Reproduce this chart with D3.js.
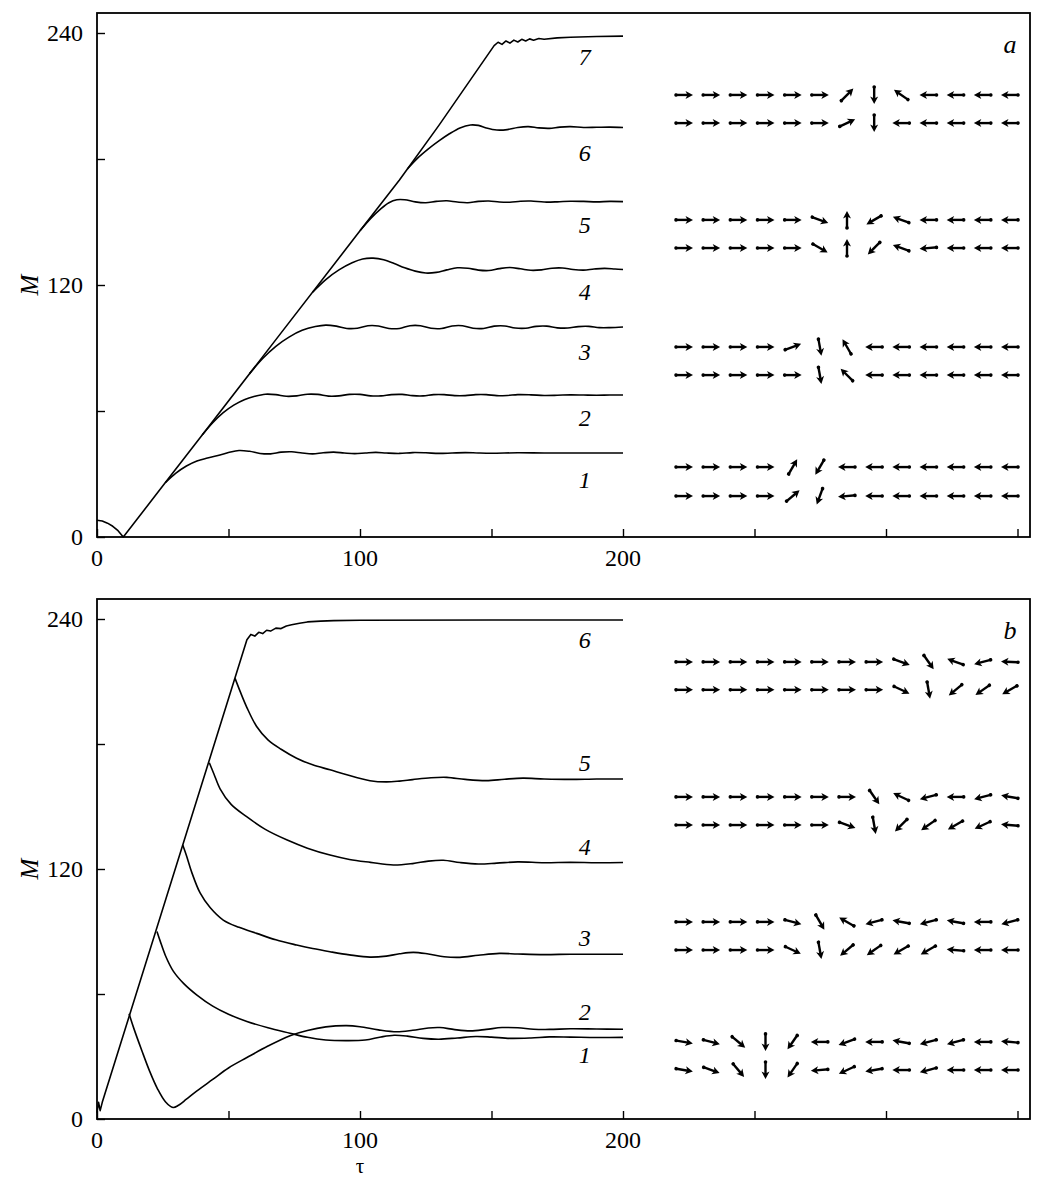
<!DOCTYPE html>
<html><head><meta charset="utf-8">
<script src="https://cdn.jsdelivr.net/npm/d3@7"></script>
<style>body{margin:0;background:#fff}svg{display:block}</style>
</head><body>
<script>
// ---------------- DATA ----------------
const xTicks = [0, 50, 100, 150, 200, 250, 300, 350];
const xTickLabels = [0, 100, 200];
const yTicks = [0, 60, 120, 180, 240];
const yTickLabels = [0, 120, 240];

// Panel a : common rising line (curve 7) and its plateau
const a7 = [[0,8],[2,7.6],[4,6.6],[6,5.1],[8,3],[10,0],[26,25.9],[40,48.6],[70,97.2],[100,145.8],[115,170],[130,196],[151,234],
  [152.5,235.6],[154,234.6],[155.5,236.2],[157,235.2],[158.5,236.6],[160,235.7],[161.5,237],[163,236.2],[164.5,237.2],
  [166,236.6],[168,237.4],[170,237],[175,237.7],[180,238],[190,238.3],[200,238.5]];
const a6 = [[118,175.2],[122,180.5],[126,184.8],[130,188.6],[134,192],[138,194.8],[142,196.2],[145,196],[148,194.8],
  [152,193.8],[156,194],[160,195],[164,195.4],[168,194.8],[172,194.6],[176,195.2],[180,195.4],[185,195],[190,195.1],[195,195.2],[200,195]];
const a5 = [[100,145.8],[104,151.6],[108,156.4],[111,159.2],[114,160.6],[117,160.6],[121,159.6],[125,159.2],[129,159.8],
  [133,160.1],[137,159.5],[141,159.2],[145,159.8],[149,160],[153,159.5],[157,159.4],[161,159.9],[165,160],[170,159.5],
  [175,159.6],[180,159.9],[185,159.8],[190,159.6],[195,159.8],[200,159.7]];
const a4 = [[82,116.6],[87,122.6],[92,127.2],[97,130.6],[101,132.4],[105,132.8],[109,132],[113,130.2],[117,128.2],
  [121,126.6],[125,125.7],[129,126],[133,127.2],[137,128.2],[141,128],[145,127.1],[149,126.9],[153,127.8],[157,128.3],
  [161,127.7],[165,127],[169,127.2],[173,128],[177,128.1],[181,127.4],[185,127.1],[189,127.6],[193,127.9],[197,127.6],[200,127.4]];
const a3 = [[58,77.8],[63,85],[68,90.8],[73,95.2],[78,98.4],[83,100.2],[87,100.9],[91,100.4],[95,99.3],[99,99.4],
  [103,100.6],[107,100.5],[111,99.3],[115,99.3],[119,100.6],[123,100.6],[127,99.4],[131,99.3],[135,100.5],[139,100.6],
  [143,99.4],[147,99.3],[151,100.4],[155,100.5],[159,99.5],[163,99.4],[167,100.3],[171,100.4],[175,99.6],[179,99.5],
  [183,100.2],[187,100.3],[191,99.7],[195,99.7],[200,100]];
const a2 = [[40,48.6],[44,54.4],[48,59.2],[52,62.8],[56,65.4],[60,67],[64,68],[68,67.8],[72,67],[76,67.2],[80,68],
  [84,67.9],[88,67.1],[92,67.2],[96,67.9],[100,67.9],[104,67.2],[108,67.2],[112,67.8],[116,67.9],[120,67.3],[124,67.2],
  [128,67.8],[132,67.8],[136,67.3],[140,67.3],[144,67.8],[148,67.8],[152,67.3],[156,67.4],[160,67.8],[165,67.7],
  [170,67.4],[175,67.5],[180,67.7],[185,67.6],[190,67.5],[195,67.6],[200,67.6]];
const a1 = [[26,25.9],[30,30.4],[34,33.8],[38,36.2],[42,37.6],[46,38.8],[50,40.2],[54,41.2],[58,40.8],[62,39.8],
  [66,39.6],[70,40.4],[74,40.6],[78,40],[82,39.6],[86,40.1],[90,40.4],[94,40],[98,39.7],[102,40],[106,40.3],[110,40],
  [115,39.8],[120,40.2],[125,40.1],[130,39.8],[135,40],[140,40.2],[145,40],[150,39.9],[160,40.1],[170,40],[180,40],[190,40],[200,40]];
const seriesA = [a1, a2, a3, a4, a5, a6, a7];
const labelsA = ["1","2","3","4","5","6","7"];
const labelMA = [27.1, 56.7, 88.1, 116.7, 148.6, 183, 228.6];

// Panel b
const b6 = [[0,3],[0.6,8],[1.2,4],[2,8],[57,230],[58.5,232.6],[60,231.8],[61.5,233.6],[63,233],[64.5,234.6],[66,234.2],
  [68,235.6],[70,235.4],[72,236.6],[74,237.2],[77,238],[80,238.6],[85,239],[90,239.2],[100,239.4],[150,239.5],[200,239.5]];
const b5 = [[52.5,211.5],[54.5,205],[57,197.5],[60.7,188.4],[65,182],[70,177.5],[75.9,173.2],[82,170],[88.6,167.6],
  [95,165.2],[103.8,162.4],[110,161.8],[115,162.2],[120,162.9],[127,163.8],[133,164],[140,163],[148,162.4],[155,163.1],
  [162,163.6],[170,163.2],[180,163],[190,163.2],[200,163.2]];
const b4 = [[42.7,171],[44.5,165.5],[46.8,158.5],[51,151],[56.9,145.1],[64,139],[72.1,134],[80,130],[88.6,126.7],
  [96,124.6],[104,123.2],[112.7,121.9],[120,122.6],[126,123.8],[131.7,124.2],[138,123.1],[145,122.4],[152,122.8],
  [160,123.4],[170,123],[180,123.2],[190,123],[200,123.1]];
const b3 = [[32.6,131.5],[34,126.5],[36,118.5],[39.2,108.5],[43,101.5],[48,95.5],[54,92],[60.7,89.1],[68,86],
  [75.9,83.5],[82,81.8],[88.6,80.3],[96,78.8],[103.8,77.7],[110,78.2],[115,79.3],[120.3,80],[126,79.2],[132,77.9],
  [138,77.6],[145,78.6],[153,79.5],[160,79.2],[170,78.9],[180,79.1],[190,79.1],[200,79.1]];
const b2 = [[12.2,50.5],[14,43.5],[17,33],[20,23],[23,14.5],[26,8.3],[28.9,5.5],[31,6.6],[34,9.5],[38,13.5],[44,19],
  [50,24.5],[57,29.5],[65,35],[73.4,40],[80,42.5],[87,44.2],[94.9,44.8],[100,44.3],[107,42.8],[114,41.9],[120,42.6],
  [126,43.7],[130.4,43.9],[136,42.9],[142,42.3],[148,43],[154,43.9],[160,43.8],[166,43.1],[172,43],[180,43.3],[190,43.2],[200,43.1]];
const b1 = [[22.8,90],[24,85.5],[26,78.5],[29,71],[33,65],[38,59.5],[44,54.2],[50,50.3],[57,46.8],[65,43.8],[73.4,41.2],
  [80,39.2],[87,37.9],[95,37.6],[102,37.9],[108,39.4],[113,40.2],[118,39.8],[124,38.7],[130,38.3],[137,38.9],[144,39.6],
  [150,39.3],[157,38.7],[165,38.9],[172,39.4],[180,39.3],[190,39.1],[200,39.2]];
const seriesB = [b1, b2, b3, b4, b5, b6];
const labelsB = ["1","2","3","4","5","6"];
const labelMB = [30.7, 51.4, 86.9, 130.6, 170.9, 230];

// Spin configurations (arrow directions, degrees, counter-clockwise from +x)
const arrowsA = [
  [[0,0,0,0,0,0,45,-90,145,180,180,180,180],
   [0,0,0,0,0,0,25,-90,180,180,180,180,180]],
  [[0,0,0,0,0,-20,90,210,160,180,180,180,180],
   [0,0,0,0,0,-30,90,225,160,185,180,180,180]],
  [[0,0,0,0,20,-80,120,180,180,180,180,180,180],
   [0,0,0,0,0,-80,135,180,180,180,180,180,180]],
  [[0,0,0,0,60,240,180,180,180,180,180,180,180],
   [0,0,0,0,40,250,185,180,180,180,180,180,180]]
];
const arrowsB = [
  [[0,0,0,0,0,0,0,0,-20,-55,160,195,178],
   [0,0,0,0,0,0,0,0,-25,-80,220,215,210]],
  [[0,0,0,0,0,0,0,-55,155,195,180,195,170],
   [0,0,0,0,0,0,-20,-80,225,215,210,205,175]],
  [[0,0,0,0,-15,-60,150,195,170,195,170,180,195],
   [0,0,0,0,-25,-80,220,215,210,210,175,180,180]],
  [[-10,-15,-40,-90,235,180,200,180,170,195,195,180,175],
   [-10,-20,-50,-90,235,185,205,190,180,195,180,180,180]]
];
// row levels of the spin pictures (in M units of each panel)
const arrowRowsA = [[210.5,197.1],[151,137.6],[90.5,77.1],[33.3,19.5]];
const arrowRowsB = [[219.4,206],[154.6,141.1],[94.6,81.1],[37,23.5]];

// ---------------- LAYOUT ----------------
const W = 1040, H = 1178;
const svg = d3.select("body").append("svg").attr("width", W).attr("height", H);
const FONT = "'Liberation Serif','Times New Roman',Times,serif";

const panels = [
  {left:97, right:1030, top:13, y0:537, y240:33, series:seriesA, linear:[6], labels:labelsA, labelM:labelMA,
   arrows:arrowsA, rows:arrowRowsA, letter:"a", showTau:false},
  {left:97, right:1030, top:599, y0:1119, y240:619, series:seriesB, linear:[5], labels:labelsB, labelM:labelMB,
   arrows:arrowsB, rows:arrowRowsB, letter:"b", showTau:true}
];

panels.forEach(p => {
  const x = d3.scaleLinear().domain([0, 200]).range([p.left, 623]);
  const y = d3.scaleLinear().domain([0, 240]).range([p.y0, p.y240]);
  const g = svg.append("g");

  // frame
  g.append("rect").attr("x", p.left).attr("y", p.top)
    .attr("width", p.right - p.left).attr("height", p.y0 - p.top)
    .attr("fill", "none").attr("stroke", "#000").attr("stroke-width", 1.8);

  // ticks (inward)
  const yAxis = d3.axisRight(y).tickValues(yTicks).tickSize(8).tickFormat("");
  g.append("g").attr("transform", `translate(${p.left},0)`).call(yAxis)
    .call(s => s.select(".domain").remove())
    .call(s => s.selectAll("line").attr("stroke-width", 1.4));
  const xAxis = d3.axisTop(x).tickValues(xTicks.filter(v => x(v) < p.right - 2)).tickSize(8).tickFormat("");
  g.append("g").attr("transform", `translate(0,${p.y0})`).call(xAxis)
    .call(s => s.select(".domain").remove())
    .call(s => s.selectAll("line").attr("stroke-width", 1.4));

  // tick labels
  g.selectAll(".yl").data(yTickLabels).join("text")
    .attr("x", p.left - 14).attr("y", d => y(d) + 8)
    .attr("text-anchor", "end").attr("font-family", FONT).attr("font-size", 24).text(d => d);
  g.selectAll(".xl").data(xTickLabels).join("text")
    .attr("x", d => x(d)).attr("y", p.y0 + 29)
    .attr("text-anchor", "middle").attr("font-family", FONT).attr("font-size", 24).text(d => d);

  // axis titles
  g.append("text").attr("transform", `translate(38,${y(120)}) rotate(-90)`)
    .attr("text-anchor", "middle").attr("font-family", FONT).attr("font-style", "italic")
    .attr("font-size", 25).text("M");
  if (p.showTau) {
    g.append("text").attr("x", x(100)).attr("y", p.y0 + 54).attr("text-anchor", "middle")
      .attr("font-family", FONT).attr("font-size", 21).text("τ");
  }
  g.append("text").attr("x", 1010).attr("y", p.top + 40).attr("text-anchor", "middle")
    .attr("font-family", FONT).attr("font-style", "italic").attr("font-size", 26).text(p.letter);

  // curves
  const smooth = d3.line().x(d => x(d[0])).y(d => y(d[1])).curve(d3.curveCatmullRom.alpha(0.5));
  const straight = d3.line().x(d => x(d[0])).y(d => y(d[1]));
  g.selectAll(".curve").data(p.series).join("path")
    .attr("d", (d, i) => p.linear.includes(i) ? straight(d) : smooth(d))
    .attr("fill", "none").attr("stroke", "#000")
    .attr("stroke-width", 1.6).attr("stroke-linejoin", "round");

  // curve labels
  g.selectAll(".cl").data(p.labels).join("text")
    .attr("x", x(185.5)).attr("y", (d, i) => y(p.labelM[i]) + 8)
    .attr("text-anchor", "middle").attr("font-family", FONT).attr("font-style", "italic")
    .attr("font-size", 24).text(d => d);

  // spin arrows
  const cols = d3.scalePoint().domain(d3.range(13)).range([684, 1010]);
  const L = 18;
  p.arrows.forEach((grp, gi) => {
    grp.forEach((row, ri) => {
      const yy = y(p.rows[gi][ri]);
      row.forEach((ang, ci) => {
        const a = g.append("g").attr("transform", `translate(${cols(ci)},${yy}) rotate(${-ang})`);
        a.append("line").attr("x1", -L/2).attr("x2", L/2 - 5).attr("y1", 0).attr("y2", 0)
          .attr("stroke", "#000").attr("stroke-width", 2.4);
        a.append("circle").attr("cx", -L/2 + 1).attr("cy", 0).attr("r", 1.8).attr("fill", "#000");
        a.append("path").attr("d", `M${L/2},0 L${L/2 - 7.5},-4 L${L/2 - 5.5},0 L${L/2 - 7.5},4 Z`)
          .attr("fill", "#000");
      });
    });
  });
});
</script>
</body></html>
